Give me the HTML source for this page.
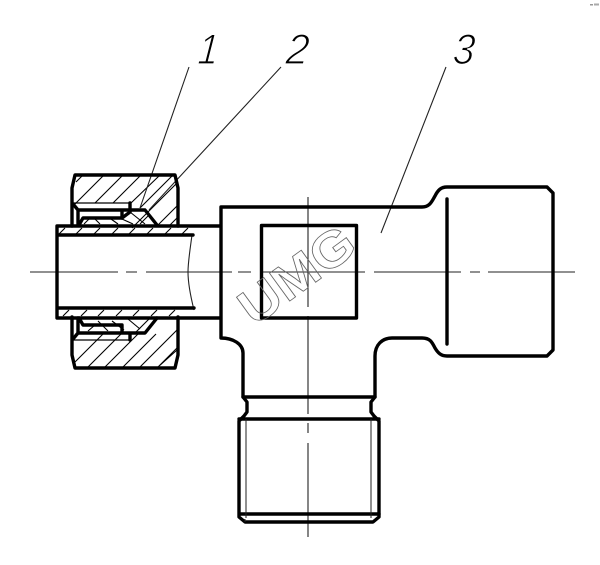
<!DOCTYPE html>
<html><head><meta charset="utf-8"><style>
html,body{margin:0;padding:0;background:#fff;width:600px;height:565px;overflow:hidden}
svg{display:block}
.t{fill:none;stroke:#000;stroke-width:3.4;stroke-linejoin:round;stroke-linecap:round}
.h{fill:none;stroke:#000;stroke-width:1.1}
.c{fill:none;stroke:#222;stroke-width:1.1}
</style></head><body>
<svg width="600" height="565" viewBox="0 0 600 565" xmlns="http://www.w3.org/2000/svg">
<rect width="600" height="565" fill="#fff"/>
<rect x="590" y="4" width="3" height="1.5" fill="#999"/><rect x="594" y="3.5" width="5" height="2" fill="#aaa"/>

<!-- hatching top nut -->
<g class="h">
<path d="M76 182L83 175M75 204L104 175M95 203L123 175M113 203L141 175M131 203L160 175M132 228L178 182M158 202L177 183M157 226L178 205M169 226L178 217M140 208L172 176"/>
<!-- bottom nut -->
<path d="M75 362L103 334M88 367L121 334M105 367L138 334M123 367L141 349L156 334M140 367L178 329M158 367L178 347M177 350L158 367"/>
<!-- tube top -->
<path d="M59 234L65 228M76 234L82 228M94 234L100 228M112 234L118 228M129 234L135 228M147 234L153 228M165 234L171 228M182 234L188 228"/>
<!-- tube bottom -->
<path d="M63 316L69 310M81 316L87 310M98 316L104 310M116 316L122 310M133 316L139 310M151 316L157 310M169 316L175 310"/>
<!-- ring hatch -->
<path d="M84 224L90 218M100 224L95 219M118 224L111 219M133 224L122 219M145 224L130 212M140 224L150 214M88 331L95 325M108 331L98 321M124 330L112 321M140 329L128 319M149 319L135 333"/>
</g>

<!-- centre lines -->
<path class="c" d="M30 272H118M126 272H137M146 272H232M238 272H251M263 272H365M374 272H461M470 272H480M488 272H575"/>
<path class="c" d="M308 197V307M308 316V414M308 423V433M308 443V537"/>

<!-- leaders and break line -->
<path class="c" d="M189 67L140 208M281 67L149 210M446 67L381 233"/>
<path class="c" d="M192 235C190 250 188 262 188 272C188 285 191 298 194 310"/>

<!-- body -->
<path class="t" d="M221 226V207H422C430 207 432 201 435 196C438 190 441 187 447 187H547L553 193V350L547 356H447C441 356 438 353 435 348C432 342 430 338 422 338H392C382 338 375 345 375 356V397L371 402V412L374 416L379 421V517L373 522H245L239 517V421L244 416L247 412V402L243 397V353C243 344 233 338 221 338V226"/>
<path class="t" d="M243 397H375M239 419H379M240 514H379M447 199V344"/>
<path d="M246 419V518M371 419V518M245 519V522" stroke="#222" fill="none"/>
<rect x="261.5" y="225.5" width="95" height="92.5" class="t"/>

<!-- tube -->
<path class="t" d="M220 226H57V318H220M57 235H193M57 308H194"/>

<!-- top nut outline -->
<g>
<path class="t" d="M72 226V188L75 175H175L178 188V226"/>
<path class="t" d="M78 225V210H130V203M130 210H145L157 225M78 210L73 204M122 210V218H83L79 225"/>
</g>
<path d="M73 203H130" stroke="#000" fill="none" stroke-width="1.2"/>
<path class="t" d="M130 212L122 218"/>
<g transform="translate(0 543) scale(1 -1)">
<path class="t" d="M72 226V188L75 175H175L178 188V226"/>
<path class="t" d="M78 225V210H130V203M130 210H145L157 225M78 210L73 204M122 210V218H83L79 225"/>
<path d="M73 203H130" stroke="#000" fill="none" stroke-width="1.2"/>
</g>

<!-- numerals -->
<g font-family="'Liberation Sans',sans-serif" font-style="italic" font-size="43" fill="#000" stroke="#fff" stroke-width="1.2">
<text transform="translate(197 64) scale(.85 1) skewX(-6)">1</text>
<text transform="translate(285 64) scale(.95 1) skewX(-6)">2</text>
<text transform="translate(452 64) scale(.9 1) skewX(-6)">3</text>
</g>

<!-- watermark -->
<text transform="translate(254 327) rotate(-36) scale(1.12 1)" font-family="'Liberation Sans',sans-serif" font-weight="bold" font-size="50" fill="none" stroke="#666" stroke-width="0.8">UMG</text>
</svg>
</body></html>
